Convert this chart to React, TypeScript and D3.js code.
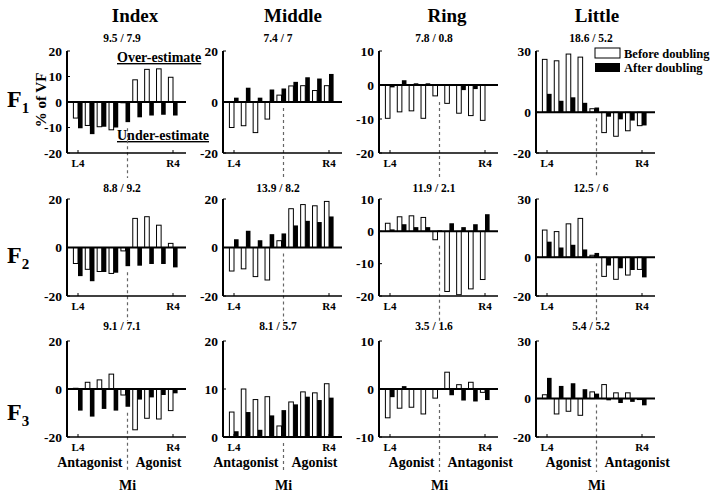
import React from "react";
import * as d3 from "d3";

// columns (fingers) and rows (force level)
const fingers = ["Index", "Middle", "Ring", "Little"];
const forces = ["1", "2", "3"];
const groups = ["L4", "L3", "L2", "L1", "Mi", "R1", "R2", "R3", "R4"];

const summaries = [
  ["9.5 / 7.9", "7.4 / 7", "7.8 / 0.8", "18.6 / 5.2"],
  ["8.8 / 9.2", "13.9 / 8.2", "11.9 / 2.1", "12.5 / 6"],
  ["9.1 / 7.1", "8.1 / 5.7", "3.5 / 1.6", "5.4 / 5.2"],
];

const yDomains = [
  [[-20, 20], [-20, 20], [-20, 10], [-20, 30]],
  [[-20, 20], [-20, 20], [-20, 10], [-20, 30]],
  [[-20, 20], [0, 20], [-10, 10], [-20, 30]],
];
const yTicks = [
  [[-20, -10, 0, 10, 20], [-20, 0, 20], [-20, -10, 0, 10], [-20, 0, 30]],
  [[-20, 0, 20], [-20, 0, 20], [-20, -10, 0, 10], [-20, 0, 30]],
  [[-20, 0, 20], [0, 10, 20], [-10, 0, 10], [-20, 0, 30]],
];

const sideLabels = [
  ["Antagonist", "Agonist"],
  ["Antagonist", "Agonist"],
  ["Agonist", "Antagonist"],
  ["Agonist", "Antagonist"],
];

// before doubling (white) per force row
const indexBefore = [
  [-6.3, -9.2, -9.7, -10.9, -0.3, 8.7, 12.8, 13, 9.7],
  [-6.6, -9, -9.9, -10.7, -1.4, 12, 12.7, 9.2, 1.7],
  [0.3, 2.8, 3.8, 6.2, -2.5, -17, -12.2, -12.5, -9],
];
const middleBefore = [
  [-10, -9.3, -12, -6.7, 2.7, 6.3, 6.4, 4.5, 6.4],
  [-9.7, -8.8, -12, -13.4, 2.8, 16, 17.7, 17.2, 19],
  [5.2, 10, 7.8, 8.4, 2.3, 7.3, 9.4, 9.2, 11.1],
];
const ringBefore = [
  [-9.8, -7.9, -7.6, -9.8, -3.2, -5.4, -8.3, -9, -10.4],
  [2.5, 4.5, 4.8, 4.3, -2.6, -18.6, -19.6, -17.8, -14.9],
  [-6, -4, -3.8, -5.2, -1.9, 3.5, 0.9, 1.4, -0.7],
];
const littleBefore = [
  [25.9, 25.2, 28.5, 27, 1.7, -10, -11.8, -9.1, -6.6],
  [14, 13.2, 17.2, 20, 1, -9.9, -11.4, -9.2, -6.3],
  [2, -8, -6.6, -8.7, 3.5, 7.3, 3, 3, -0.5],
];

// after doubling (black)
const indexAfter = [
  [-10.3, -12.6, -9.7, -10, -7.9, -6, -5.3, -5, -5.3],
  [-11.8, -13.9, -10.1, -10.4, -7.7, -7.5, -6.8, -6.8, -8.2],
  [-9, -11.5, -8.3, -9, -7.4, -4.4, -3.5, -2.5, -1.8],
];
const middleAfter = [
  [1.7, 5.6, 1.7, 4.9, 5.3, 7.9, 9.7, 9.2, 11],
  [3.4, 6.9, 3, 5.5, 5.8, 9.1, 11, 10.5, 12.8],
  [1.2, 5.2, 1.5, 4.5, 5.6, 6.8, 8.4, 7.7, 8.2],
];
const ringAfter = [
  [-0.7, 1.4, 0.5, 0.5, 0, -0.3, -1.5, -1.2, 0],
  [0.6, 2.2, 1.3, 1.3, 0.3, 2.5, 1.3, 2.2, 5.3],
  [-1.7, 0.6, 0.1, 0.2, 0, -1.3, -2.4, -2.6, -2.3],
];
const littleAfter = [
  [9, 5.6, 7.3, 4.6, 2.3, -2.2, -3.5, -4.1, -6.5],
  [8, 5, 6.4, 4, 2.2, -4.3, -5.7, -6.6, -10.4],
  [10.8, 6.6, 8, 4.9, 2.6, -0.9, -2.3, -1.7, -3.5],
];

const beforeData = [indexBefore, middleBefore, ringBefore, littleBefore];
const afterData = [indexAfter, middleAfter, ringAfter, littleAfter];

// layout
const colX = [67, 223, 379, 536];
const panelW = 119;
const rowTop = [51, 199, 341];
const rowBottom = [153, 296, 437];
const headerX = [135, 293, 447, 597];
const summaryY = [42, 192, 330];
const fLabelY = [107, 263, 420];

const font = "'Liberation Serif', 'Times New Roman', serif";
const barW = 4.6;

const Panel = ({ r, c }) => {
  const x0 = colX[c];
  const x = d3.scalePoint().domain(groups).range([x0 + 11, x0 + 106]);
  const y = d3.scaleLinear().domain(yDomains[r][c]).range([rowBottom[r], rowTop[r]]);
  const before = beforeData[c][r];
  const after = afterData[c][r];
  const mi = groups.indexOf("Mi");
  const dashTop = y(Math.min(0, before[mi], after[mi], yDomains[r][c][1])) + 6;
  const dashBottom = rowBottom[r] + (r === 2 ? 35 : 25);
  const midX = x("Mi") + 2;

  return (
    <g>
      <text x={x0 + 55} y={summaryY[r]} textAnchor="middle" fontSize={11.5}>
        {summaries[r][c]}
      </text>
      <line x1={midX} x2={midX} y1={dashTop} y2={dashBottom} stroke="#666" strokeWidth={1.2} strokeDasharray="3,3" />
      {groups.map((g, i) => {
        const b = before[i];
        const a = after[i];
        return (
          <g key={g}>
            <rect x={x(g) - barW} y={Math.min(y(b), y(0))} width={barW} height={Math.abs(y(b) - y(0))} fill="white" stroke="black" strokeWidth={1} />
            <rect x={x(g)} y={Math.min(y(a), y(0))} width={barW} height={Math.abs(y(a) - y(0))} fill="black" />
          </g>
        );
      })}
      <line x1={x0} x2={x0 + panelW} y1={y(0)} y2={y(0)} stroke="black" strokeWidth={2} />
      <line x1={x0} x2={x0} y1={rowTop[r]} y2={rowBottom[r]} stroke="black" strokeWidth={2} />
      <line x1={x0} x2={x0 + panelW} y1={rowBottom[r]} y2={rowBottom[r]} stroke="black" strokeWidth={1.5} />
      {yTicks[r][c].map((t) => (
        <g key={t}>
          <line x1={x0} x2={x0 + 3} y1={y(t)} y2={y(t)} stroke="black" strokeWidth={1} />
          <text x={x0 - 5} y={y(t)} dy="0.35em" textAnchor="end" fontSize={13.5}>
            {t}
          </text>
        </g>
      ))}
      {["L4", "R4"].map((g) => (
        <g key={g}>
          <line x1={x(g)} x2={x(g)} y1={rowBottom[r]} y2={rowBottom[r] - 3} stroke="black" strokeWidth={1} />
          <text x={x(g)} y={rowBottom[r] + 14} textAnchor="middle" fontSize={11}>
            {g}
          </text>
        </g>
      ))}
      {r === 2 && (
        <g fontSize={14}>
          <text x={midX - 5} y={467} textAnchor="end">{sideLabels[c][0]}</text>
          <text x={midX + 8} y={467} textAnchor="start">{sideLabels[c][1]}</text>
          <text x={midX} y={490} textAnchor="middle">Mi</text>
        </g>
      )}
    </g>
  );
};

const App = () => {
  return (
    <svg width={717} height={498} style={{ position: "absolute", left: 0, top: 0, background: "white" }} fontFamily={font} fontWeight="bold">
      {fingers.map((f, c) => (
        <text key={f} x={headerX[c]} y={22} textAnchor="middle" fontSize={19}>
          {f}
        </text>
      ))}
      {forces.map((s, r) => (
        <text key={s} x={7} y={fLabelY[r]} fontSize={24}>
          F<tspan fontSize={15} dy={6}>{s}</tspan>
        </text>
      ))}
      <text transform="translate(46,100) rotate(-90)" textAnchor="middle" fontSize={15}>
        % of VF
      </text>
      <text x={117} y={62} fontSize={14} textDecoration="underline">Over-estimate</text>
      <text x={117} y={140} fontSize={14} textDecoration="underline">Under-estimate</text>
      {forces.map((s, r) =>
        fingers.map((f, c) => <Panel key={`${r}-${c}`} r={r} c={c} />)
      )}
      <rect x={595} y={48} width={25} height={10} fill="white" stroke="black" strokeWidth={1} />
      <rect x={595} y={63} width={25} height={9} fill="black" />
      <text x={624} y={58} fontSize={12.5}>Before doubling</text>
      <text x={624} y={72} fontSize={12.5}>After doubling</text>
    </svg>
  );
};

export default App;
